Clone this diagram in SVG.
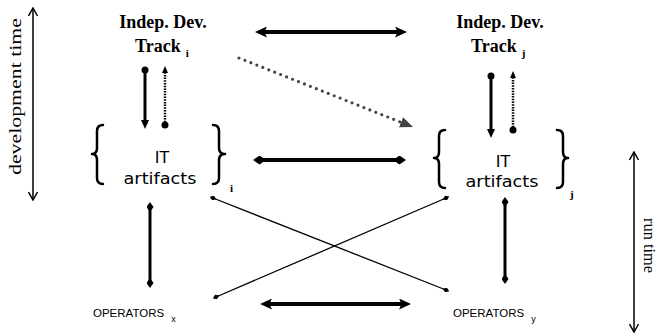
<svg xmlns="http://www.w3.org/2000/svg" width="658" height="334" viewBox="0 0 658 334">
<defs>
<style>
.hdr{font-family:"Liberation Serif","Times New Roman",serif;font-weight:bold;font-size:18px;fill:#000}
.sub{font-size:11px}
.it{font-family:"DejaVu Sans","Comic Sans MS",sans-serif;font-size:16px;fill:#000}
.op{font-family:"Liberation Sans",Arial,sans-serif;font-size:11.5px;fill:#000}
.opsub{font-size:9px}
.axis{font-family:"Liberation Serif","Times New Roman",serif;font-size:17px;fill:#000}
.brace{fill:none;stroke:#000;stroke-width:2.5;stroke-linecap:round;stroke-linejoin:round}
.thick{stroke:#000;stroke-width:4;fill:none}
.mid{stroke:#000;stroke-width:3;fill:none}
.thin{stroke:#000;stroke-width:1.3;fill:none}
.time{stroke:#000;stroke-width:1.5;fill:none}
.dots{stroke:#444;stroke-width:3.2;stroke-dasharray:0 6.4;stroke-linecap:round;fill:none}
.fine{stroke:#000;stroke-width:2.5;stroke-dasharray:1.5 1.2;fill:none}
</style>
<marker id="ah" markerUnits="userSpaceOnUse" viewBox="0 0 12 11" markerWidth="12" markerHeight="11" refX="5" refY="5.5" orient="auto-start-reverse"><path d="M0,0 L12,5.5 L0,11 L2.5,5.5 z" fill="#000"/></marker>
<marker id="ahg" markerUnits="userSpaceOnUse" viewBox="0 0 13 11" markerWidth="13" markerHeight="11" refX="5" refY="5.5" orient="auto"><path d="M0,0 L13,5.5 L0,11 z" fill="#444"/></marker>
<marker id="ahs" markerUnits="userSpaceOnUse" viewBox="0 0 9 8" markerWidth="9" markerHeight="8" refX="4" refY="4" orient="auto"><path d="M0,0 L9,4 L0,8 z" fill="#000"/></marker>
<marker id="ahf" markerUnits="userSpaceOnUse" viewBox="0 0 7 6" markerWidth="7" markerHeight="6" refX="3" refY="3" orient="auto"><path d="M0,0 L7,3 L0,6 z" fill="#000"/></marker>
<marker id="dot" markerUnits="userSpaceOnUse" viewBox="0 0 8 8" markerWidth="8" markerHeight="8" refX="4" refY="4" orient="auto"><circle cx="4" cy="4" r="3.5" fill="#000"/></marker>
<marker id="dia" markerUnits="userSpaceOnUse" viewBox="0 0 13 9" markerWidth="13" markerHeight="9" refX="6.5" refY="4.5" orient="auto-start-reverse"><path d="M0,4.5 L6.5,0 L13,4.5 L6.5,9 z" fill="#000"/></marker>
<marker id="diam" markerUnits="userSpaceOnUse" viewBox="0 0 10 7" markerWidth="10" markerHeight="7" refX="5" refY="3.5" orient="auto-start-reverse"><path d="M0,3.5 L5,0 L10,3.5 L5,7 z" fill="#000"/></marker>
<marker id="dias" markerUnits="userSpaceOnUse" viewBox="0 0 7 5" markerWidth="7" markerHeight="5" refX="3.5" refY="2.5" orient="auto-start-reverse"><path d="M0,2.5 L3.5,0 L7,2.5 L3.5,5 z" fill="#000"/></marker>
<marker id="open" markerUnits="userSpaceOnUse" viewBox="-1 -1 10 11" markerWidth="10" markerHeight="11" refX="8" refY="4.5" orient="auto-start-reverse"><path d="M0,0 L8,4.5 L0,9" fill="none" stroke="#000" stroke-width="1.5"/></marker>
</defs>

<g id="devTime">
<line class="time" x1="33" y1="8" x2="33" y2="200" marker-start="url(#open)" marker-end="url(#open)"/>
<text class="axis" transform="translate(21,175) rotate(-90)" textLength="157" lengthAdjust="spacingAndGlyphs">development time</text>
</g>
<g id="runTime">
<line class="time" x1="634" y1="152" x2="634" y2="332" marker-start="url(#open)" marker-end="url(#open)"/>
<text class="axis" transform="translate(644,218) rotate(90)" textLength="55" lengthAdjust="spacingAndGlyphs">run time</text>
</g>

<g id="trackI">
<text class="hdr" x="163" y="28" text-anchor="middle">Indep. Dev.</text>
<text class="hdr" x="135" y="52">Track<tspan class="sub" dx="5" dy="5">i</tspan></text>
</g>
<g id="trackJ">
<text class="hdr" x="500" y="28" text-anchor="middle">Indep. Dev.</text>
<text class="hdr" x="471" y="52">Track<tspan class="sub" dx="5" dy="5">j</tspan></text>
</g>

<g id="artifactsI">
<path class="brace" d="M103,125 Q97,125 97,131 L97,148 Q97,154 92,154 Q97,154 97,160 L97,178 Q97,184 103,184"/>
<path class="brace" d="M213,125 Q219,125 219,131 L219,148 Q219,154 225,154 Q219,154 219,160 L219,178 Q219,184 213,184"/>
<text class="it" x="162" y="163" text-anchor="middle">IT</text>
<text class="it" x="160" y="184" text-anchor="middle" textLength="73" lengthAdjust="spacingAndGlyphs">artifacts</text>
<text class="hdr sub" x="230" y="192">i</text>
</g>
<g id="artifactsJ">
<path class="brace" d="M445,130 Q439,130 439,136 L439,152 Q439,158 434,158 Q439,158 439,164 L439,182 Q439,188 445,188"/>
<path class="brace" d="M557,130 Q563,130 563,136 L563,152 Q563,158 568,158 Q563,158 563,164 L563,182 Q563,188 557,188"/>
<text class="it" x="503" y="167" text-anchor="middle">IT</text>
<text class="it" x="502" y="187" text-anchor="middle" textLength="73" lengthAdjust="spacingAndGlyphs">artifacts</text>
<text class="hdr sub" x="570" y="198">j</text>
</g>

<g id="operatorsX">
<text class="op" x="93" y="317">OPERATORS <tspan class="opsub" dx="4" dy="5">x</tspan></text>
</g>
<g id="operatorsY">
<text class="op" x="453" y="317">OPERATORS <tspan class="opsub" dx="4" dy="5">y</tspan></text>
</g>

<g id="connectors">
<line class="thick" x1="262" y1="32" x2="400" y2="32" marker-start="url(#ah)" marker-end="url(#ah)"/>
<line class="dots" x1="239" y1="58" x2="405.6" y2="124.1" marker-end="url(#ahg)"/>
<line class="mid" x1="145" y1="70" x2="145" y2="124" marker-start="url(#dot)" marker-end="url(#ahs)"/>
<line class="fine" x1="165" y1="125" x2="165" y2="70" marker-start="url(#dot)" marker-end="url(#ahf)"/>
<line class="mid" x1="491" y1="76" x2="491" y2="133" marker-start="url(#dot)" marker-end="url(#ahs)"/>
<line class="fine" x1="513" y1="130" x2="513" y2="75" marker-start="url(#dot)" marker-end="url(#ahf)"/>
<line class="thick" x1="259.5" y1="160" x2="399.5" y2="160" marker-start="url(#dia)" marker-end="url(#dia)"/>
<line class="mid" x1="150" y1="207" x2="150" y2="283" marker-start="url(#diam)" marker-end="url(#diam)"/>
<line class="mid" x1="505" y1="202" x2="505" y2="279" marker-start="url(#diam)" marker-end="url(#diam)"/>
<line class="thin" x1="213" y1="198" x2="446" y2="290" marker-start="url(#dias)" marker-end="url(#dias)"/>
<line class="thin" x1="216" y1="297" x2="446" y2="198" marker-start="url(#dias)" marker-end="url(#dias)"/>
<line class="thick" x1="267" y1="304" x2="404" y2="304" marker-start="url(#ah)" marker-end="url(#ah)"/>
</g>
</svg>
